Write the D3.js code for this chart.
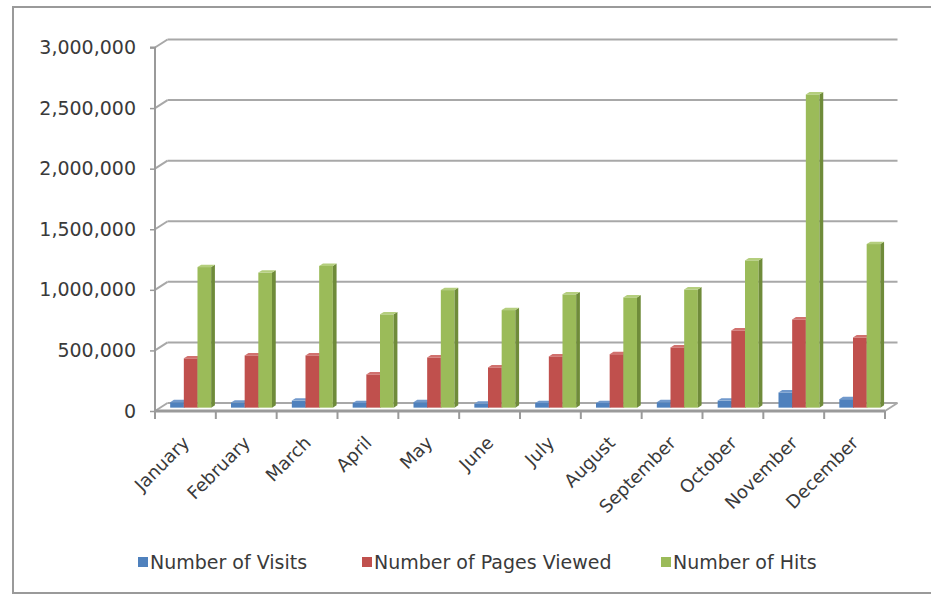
<!DOCTYPE html>
<html>
<head>
<meta charset="utf-8">
<script src="https://cdn.jsdelivr.net/npm/d3@7"></script>
<style>
  html, body { margin: 0; padding: 0; background: #fff; }
  svg { display: block; }
  text { font-family: "DejaVu Sans", sans-serif; fill: #3a3a3a; }
</style>
</head>
<body>
<svg id="chart" width="931" height="594"></svg>
<script>
const months = ["January","February","March","April","May","June","July","August","September","October","November","December"];
const seriesNames = ["Number of Visits","Number of Pages Viewed","Number of Hits"];
const visits = [45000, 42000, 58000, 38000, 45000, 32000, 38000, 38000, 45000, 58000, 125000, 70000];
const pagesViewed = [407000, 431000, 431000, 274000, 414000, 332000, 423000, 441000, 497000, 637000, 728000, 579000];
const hits = [1160000, 1115000, 1170000, 770000, 970000, 805000, 935000, 910000, 975000, 1215000, 2585000, 1350000];
const yTicks = [0, 500000, 1000000, 1500000, 2000000, 2500000, 3000000];

const colors = [
  {front: "#4F81BD", side: "#36629A", top: "#7199CC"},
  {front: "#C0504D", side: "#933B39", top: "#D1716E"},
  {front: "#9BBB59", side: "#6F8B3A", top: "#B4CE7D"}
];
const seriesValues = [visits, pagesViewed, hits];

const svg = d3.select("#chart");

// outer frame
svg.append("rect").attr("x", 13).attr("y", 7).attr("width", 940).attr("height", 586)
  .attr("fill", "none").attr("stroke", "#9a9a9a").attr("stroke-width", 2);

const x0 = 155, x1 = 885;
const depth = {dx: 12.5, dy: -8};
const x = d3.scaleBand().domain(months).range([x0, x1]).padding(0);
const y = d3.scaleLinear().domain([0, 3000000]).range([411, 47.5]);
const inner = d3.scaleBand().domain(d3.range(3)).range([0, 41]).padding(0);

// gridlines (back wall + left wall)
const grid = svg.append("g");
yTicks.forEach(t => {
  const yf = y(t), yb = yf + depth.dy;
  grid.append("line").attr("x1", x0).attr("y1", yf).attr("x2", x0 + depth.dx).attr("y2", yb)
    .attr("stroke", "#a8a8a8").attr("stroke-width", 2);
  grid.append("line").attr("x1", x0 + depth.dx).attr("y1", yb).attr("x2", x1 + depth.dx).attr("y2", yb)
    .attr("stroke", "#a8a8a8").attr("stroke-width", 2);
});
// floor right edge
grid.append("line").attr("x1", x1).attr("y1", y(0)).attr("x2", x1 + depth.dx).attr("y2", y(0) + depth.dy)
  .attr("stroke", "#a8a8a8").attr("stroke-width", 2);

// y axis (front)
const yAxis = d3.axisLeft(y).tickValues(yTicks).tickSize(5).tickPadding(14)
  .tickFormat(d => d3.format(",")(d));
const gy = svg.append("g").attr("transform", `translate(${x0},0)`).call(yAxis);
gy.select(".domain").attr("stroke", "#9a9a9a").attr("stroke-width", 2).attr("d", `M-5,${y(3000000)}H0V${y(0)}`);
gy.selectAll(".tick line").attr("stroke", "#9a9a9a").attr("stroke-width", 1.5);
gy.selectAll(".tick text").style("font-size", "19px").attr("fill", "#3a3a3a")
  .style("font-family", "DejaVu Sans, sans-serif");

// x axis (front floor edge)
const xAxis = d3.axisBottom(x).tickSize(0).tickFormat("");
const gx = svg.append("g").attr("transform", `translate(0,${y(0)})`).call(xAxis);
gx.select(".domain").attr("stroke", "#9a9a9a").attr("stroke-width", 3).attr("d", `M${x0},0H${x1}`);
const bounds = months.map(m => x(m)).concat([x1]);
gx.selectAll(".sep").data(bounds).enter().append("line")
  .attr("x1", d => d).attr("x2", d => d).attr("y1", 0).attr("y2", 8)
  .attr("stroke", "#9a9a9a").attr("stroke-width", 2);

// bars
const f0 = 0.42, f1 = 0.72;
const bars = svg.append("g");
months.forEach((m, i) => {
  const gx0 = x(m) + x.bandwidth() / 2 - 20.5;
  seriesValues.forEach((vals, s) => {
    const v = vals[i];
    const c = colors[s];
    const xl = gx0 + inner(s) + depth.dx * f0;
    const xr = xl + inner.bandwidth();
    const yb = y(0) + depth.dy * f0;
    const yt = y(v) + depth.dy * f0;
    const ddx = depth.dx * (f1 - f0), ddy = depth.dy * (f1 - f0);
    const g = bars.append("g");
    g.append("rect").attr("x", xl).attr("y", yt).attr("width", xr - xl).attr("height", yb - yt)
      .attr("fill", c.front);
    g.append("path").attr("d", `M${xr},${yt}L${xr + ddx},${yt + ddy}L${xr + ddx},${yb + ddy}L${xr},${yb}Z`)
      .attr("fill", c.side);
    g.append("path").attr("d", `M${xl},${yt}L${xl + ddx},${yt + ddy}L${xr + ddx},${yt + ddy}L${xr},${yt}Z`)
      .attr("fill", c.top);
  });
});

// x labels
svg.append("g").selectAll("text").data(months).enter().append("text")
  .attr("transform", d => `translate(${x(d) + x.bandwidth() / 2 + 5},444) rotate(-45)`)
  .attr("text-anchor", "end")
  .style("font-size", "18px")
  .text(d => d);

// legend
const legendX = [138, 362, 661];
const lg = svg.append("g");
seriesNames.forEach((n, s) => {
  lg.append("rect").attr("x", legendX[s]).attr("y", 557).attr("width", 10).attr("height", 10)
    .attr("fill", colors[s].front);
  lg.append("text").attr("x", legendX[s] + 12).attr("y", 568.5).style("font-size", "19px").text(n);
});
</script>
</body>
</html>
